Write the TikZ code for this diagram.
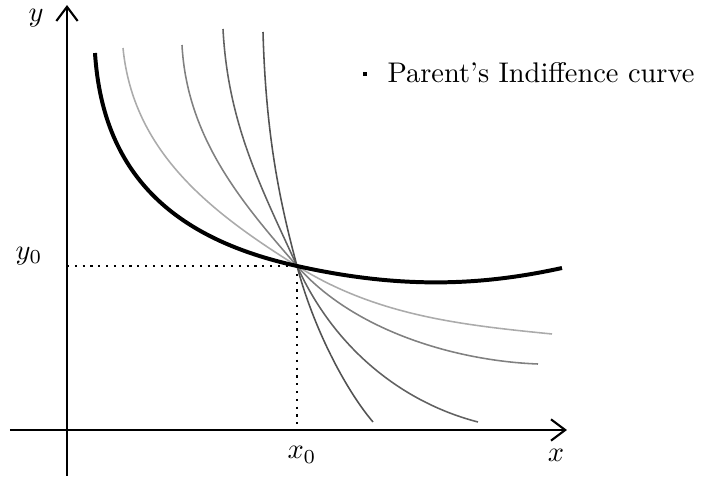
\documentclass[tikz,border=0pt]{standalone}
\usetikzlibrary{arrows.meta}
\begin{document}
\begin{tikzpicture}[x=0.352pt,y=-0.352pt,
  axis/.style={line width=0.75pt,-{Straight Barb[length=5pt,width=7.5pt,line width=0.75pt]}},
  guide/.style={dotted,line width=0.75pt},
  parent/.style={line width=1.4pt,black},
  ic/.style={line width=0.55pt},
  lbl/.style={inner sep=0pt}]
\useasboundingbox (0,0) rectangle (703,477);
\coordinate (P) at (297,266);
\coordinate (xs) at (10,430);
\coordinate (xe) at (567,430);
\coordinate (ys) at (67,476);
\coordinate (ye) at (67,5);
\coordinate (P0) at (67,266);
\coordinate (Px) at (297,430);
% dotted guides
\draw[guide] (P0) -- (P);
\draw[guide] (P) -- (Px);
% axes
\draw[axis] (xs) -- (xe);
\draw[axis] (ys) -- (ye);
% other indifference curves
\draw[ic,black!33] (123,48) .. controls (133,150) and (207,210) .. (P)
                     .. controls (377,316) and (462,325) .. (552,334);
\draw[ic,black!50] (182,45) .. controls (187,138) and (242,203) .. (P)
                     .. controls (355,332) and (458,361) .. (538,364);
\draw[ic,black!62] (223,29) .. controls (228,125) and (262,189) .. (P)
                     .. controls (337,354) and (408,404) .. (478,422);
\draw[ic,black!68] (263,32) .. controls (266,140) and (281,206) .. (P)
                     .. controls (313,327) and (345,389) .. (373,422);
% parent's curve
\draw[parent] (95,53) .. controls (103,180) and (180,240) .. (P)
              .. controls (400,289) and (480,286) .. (562,268);
% labels
\node[lbl] (ly) at (36,18) {$y$};
\node[lbl] (lx) at (556,455) {$x$};
\node[lbl] (lx0) at (302,455) {$x_0$};
\node[lbl] (ly0) at (29,256) {$y_0$};
\node[fill=black,minimum size=1.75pt,inner sep=0pt] (mk) at (365,74) {};
\node[lbl,anchor=west] (leg) at (387,73) {Parent's Indiffence curve};
\end{tikzpicture}
\end{document}
